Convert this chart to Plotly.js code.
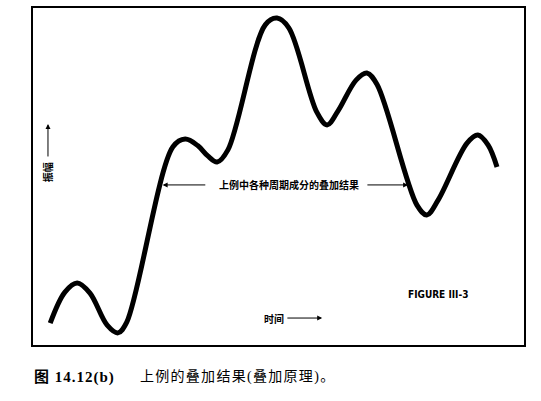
<!DOCTYPE html>
<html>
<head>
<meta charset="utf-8">
<script src="https://cdn.plot.ly/plotly-3.0.1.min.js"></script>
<style>
html,body{margin:0;padding:0;background:#fff;}
#chart{width:541px;height:401px;}
g.annotation[data-index="8"] text{letter-spacing:1px;}
g.annotation[data-index="9"] text{letter-spacing:1.3px;}
</style>
</head>
<body>
<div id="chart"></div>
<script>
// Time (arbitrary units, 0-100) and amplitude (arbitrary units, 0-100)
var time = [3.5, 6.5, 9.0, 11.6, 15.1, 17.3, 19.1, 28.5, 31.0, 33.6, 35.6, 37.5, 39.7, 47.3, 49.7, 52.1, 57.8, 59.9, 62.1, 65.8, 68.0, 70.1, 78.2, 80.2, 82.5, 88.4, 90.6, 92.7, 94.5];
var amplitude = [6.5, 15.7, 18.4, 15.4, 5.9, 3.6, 6.8, 58.8, 61.1, 59.1, 56.1, 54.3, 57.9, 95.0, 97.0, 94.1, 69.1, 65.3, 69.4, 78.6, 80.7, 77.2, 41.5, 38.6, 43.0, 59.9, 62.3, 59.3, 52.8];

var yLabel = "振幅";
var xLabel = "时间";
var curveLabel = "上例中各种周期成分的叠加结果";
var figureTag = "FIGURE III-3";
var captionNum = "图 14.12(b)";
var captionText = "上例的叠加结果(叠加原理)。";

var trace = {
  x: time, y: amplitude, type: 'scatter', mode: 'lines',
  line: {color: '#000', width: 5, shape: 'spline', smoothing: 1.0},
  hoverinfo: 'skip'
};

var cjk = '"Noto Sans CJK SC", "Noto Sans", sans-serif';
var arrowCommon = {text: '', showarrow: true, axref: 'x', ayref: 'y', arrowhead: 2, arrowsize: 1, arrowwidth: 1, arrowcolor: '#000'};

var annotations = [
  {x: 52.1, y: 47.5, xref: 'x', yref: 'y', text: '<b>' + curveLabel + '</b>', showarrow: false,
   font: {family: cjk, size: 10, color: '#000'}},
  Object.assign({x: 26.4, y: 47.5, xref: 'x', yref: 'y', ax: 35.4, ay: 47.5}, arrowCommon),
  Object.assign({x: 76.4, y: 47.5, xref: 'x', yref: 'y', ax: 67.8, ay: 47.5}, arrowCommon),
  {x: 49.1, y: 8.0, xref: 'x', yref: 'y', text: '<b>' + xLabel + '</b>', showarrow: false,
   font: {family: cjk, size: 10, color: '#000'}},
  Object.assign({x: 58.9, y: 8.0, xref: 'x', yref: 'y', ax: 51.5, ay: 8.0}, arrowCommon),
  {x: 2.9, y: 51.3, xref: 'x', yref: 'y', text: '<b>' + yLabel + '</b>', showarrow: false, textangle: -90,
   font: {family: cjk, size: 10, color: '#000'}},
  Object.assign({x: 3.05, y: 65.6, xref: 'x', yref: 'y', ax: 3.05, ay: 55.5}, arrowCommon),
  {x: 82.5, y: 15.1, xref: 'x', yref: 'y', text: '<b>' + figureTag + '</b>', showarrow: false,
   font: {family: '"Liberation Sans Narrow", "DejaVu Sans Condensed", "DejaVu Sans", sans-serif', size: 10, color: '#000'}},
  {x: 0.008, y: -0.095, xref: 'paper', yref: 'paper', xanchor: 'left', yanchor: 'middle', showarrow: false,
   text: '<b>' + captionNum + '</b>',
   font: {family: '"Liberation Serif", "Noto Sans CJK SC", serif', size: 15, color: '#000'}},
  {x: 0.232, y: -0.095, xref: 'paper', yref: 'paper', xanchor: 'left', yanchor: 'middle', showarrow: false,
   text: captionText,
   font: {family: '"Liberation Serif", "Noto Sans CJK SC", serif', size: 14, color: '#000'}}
];

var layout = {
  width: 541, height: 401,
  margin: {l: 33, r: 17, t: 8, b: 56},
  paper_bgcolor: '#fff', plot_bgcolor: '#fff',
  showlegend: false,
  xaxis: {range: [0, 100], showgrid: false, zeroline: false, showticklabels: false, ticks: '',
          showline: true, mirror: true, linecolor: '#000', linewidth: 2, fixedrange: true},
  yaxis: {range: [0, 100], showgrid: false, zeroline: false, showticklabels: false, ticks: '',
          showline: true, mirror: true, linecolor: '#000', linewidth: 2, fixedrange: true},
  annotations: annotations
};

Plotly.newPlot('chart', [trace], layout, {staticPlot: true, displayModeBar: false});
</script>
</body>
</html>
